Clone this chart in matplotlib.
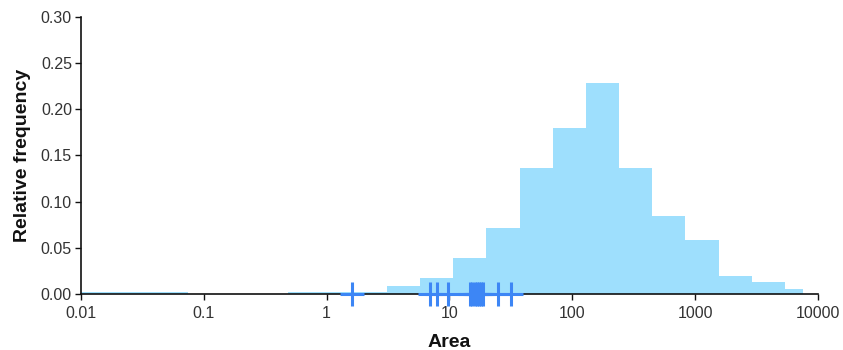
import matplotlib
matplotlib.use("Agg")
import matplotlib.pyplot as plt
import numpy as np

# Histogram bins (log-spaced, area units) and relative frequencies
bin_edges = [0.01, 0.0743, 0.48, 3.1, 5.77, 10.7, 20.0, 37.2, 69.3, 129, 240,
             448, 834, 1552, 2891, 5383, 7600]
rel_freq = [0.002, 0.0, 0.002, 0.009, 0.017, 0.039, 0.072, 0.137, 0.180,
            0.228, 0.137, 0.084, 0.0585, 0.019, 0.0125, 0.005]

# Highlighted individual values (rug marks) with their ranges
rug_values = [1.6, 6.9, 7.9, 9.8, 14.6, 15.3, 16.0, 16.6, 17.3, 18.0, 18.6, 25.0, 31.5]
range_factor = 1.25

x_ticks = [0.01, 0.1, 1, 10, 100, 1000, 10000]
x_tick_labels = ["0.01", "0.1", "1", "10", "100", "1000", "10000"]
y_ticks = [0.0, 0.05, 0.10, 0.15, 0.20, 0.25, 0.30]

plt.rcParams['font.family'] = ['Liberation Sans', 'DejaVu Sans']

fig = plt.figure(figsize=(8.43, 3.5), dpi=100)
ax = fig.add_axes([81/843, 1-294/350, (818-81)/843, (294-17)/350])

lefts = np.array(bin_edges[:-1])
rights = np.array(bin_edges[1:])
ax.bar(lefts, rel_freq, width=rights-lefts, align='edge',
       color='#9edffd', edgecolor='none', linewidth=0, zorder=1)

blue = '#3d86f5'
rv = np.array(rug_values)
ax.hlines(np.zeros_like(rv), rv/range_factor, rv*range_factor, colors=blue,
          linewidth=2.2, zorder=4, clip_on=False)
ax.plot(rv, np.zeros_like(rv), linestyle='none', marker='|', markersize=17,
        markeredgewidth=2.2, color=blue, zorder=5, clip_on=False)

ax.set_xscale('log')
ax.set_xlim(0.01, 10000)
ax.set_ylim(0, 0.30)
ax.set_xticks(x_ticks)
ax.set_xticklabels(x_tick_labels)
ax.xaxis.set_minor_locator(matplotlib.ticker.NullLocator())
ax.set_yticks(y_ticks)
ax.set_yticklabels([f"{v:.2f}" for v in y_ticks])

for s in ['top', 'right']:
    ax.spines[s].set_visible(False)
for s in ['left', 'bottom']:
    ax.spines[s].set_linewidth(1.2)
    ax.spines[s].set_color('#111111')
    ax.spines[s].set_zorder(3)

ax.tick_params(axis='both', length=4.5, width=1.0, color='#111111',
               labelsize=11.5, labelcolor='#333333', pad=2)
ax.tick_params(axis='x', pad=4.5)

ax.set_xlabel('Area', fontsize=14, fontweight='bold', color='#111111', labelpad=9)
ax.set_ylabel('Relative frequency', fontsize=14, fontweight='bold', color='#111111', labelpad=7)

fig.savefig('out.png', dpi=100)
